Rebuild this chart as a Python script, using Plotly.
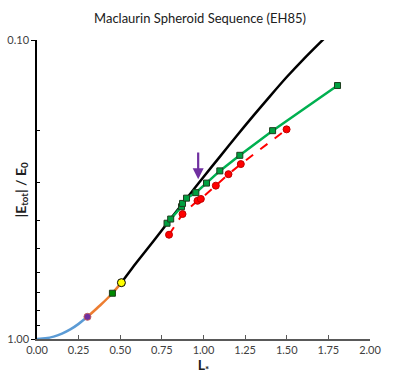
import plotly.graph_objects as go
import math

# ---- data ----
blue_L = [0.0, 0.05, 0.10, 0.15, 0.20, 0.25, 0.303]
blue_E = [1.0, 0.995, 0.982, 0.959, 0.929, 0.890, 0.843]

orange_L = [0.303, 0.38, 0.453, 0.507]
orange_E = [0.843, 0.771, 0.703, 0.648]

black_L = [0.507, 0.60, 0.70, 0.80, 0.90, 1.00, 1.10, 1.20, 1.30, 1.40, 1.50, 1.60, 1.70, 1.80]
black_E = [0.648, 0.553, 0.470, 0.398, 0.338, 0.287, 0.245, 0.209, 0.179, 0.154, 0.133, 0.116, 0.102, 0.090]

green_L = [0.781, 0.803, 0.868, 0.874, 0.898, 0.954, 1.018, 1.098, 1.218, 1.415, 1.805]
green_E = [0.410, 0.397, 0.361, 0.352, 0.338, 0.324, 0.301, 0.274, 0.243, 0.201, 0.142]

red_L = [0.793, 0.874, 0.964, 0.984, 1.074, 1.150, 1.224, 1.499]
red_E = [0.448, 0.382, 0.345, 0.340, 0.307, 0.281, 0.260, 0.199]

purple_pt = (0.303, 0.843)
green_pt = (0.453, 0.703)
yellow_pt = (0.507, 0.648)

arrow_L = 0.968
arrow_tip = 0.292
arrow_tail = 0.235

x_ticks = [0, 0.25, 0.5, 0.75, 1.0, 1.25, 1.5, 1.75, 2.0]
y_ticks = [0.1, 1.0]
y_minor = [0.2, 0.3, 0.4, 0.5, 0.6, 0.7, 0.8, 0.9]

FONT = "Lato, 'Open Sans', sans-serif"

fig = go.Figure()
fig.add_trace(go.Scatter(x=blue_L, y=blue_E, mode="lines",
                         line=dict(color="#5B9BD5", width=2.5, shape="spline", smoothing=0.6)))
fig.add_trace(go.Scatter(x=orange_L, y=orange_E, mode="lines",
                         line=dict(color="#ED7D31", width=2.5, shape="spline", smoothing=0.6)))
fig.add_trace(go.Scatter(x=black_L, y=black_E, mode="lines",
                         line=dict(color="black", width=2.5, shape="spline", smoothing=0.6)))
fig.add_trace(go.Scatter(x=red_L, y=red_E, mode="lines+markers",
                         line=dict(color="#FF0000", width=2, dash="dash"),
                         marker=dict(symbol="circle", size=7, color="#FF0000",
                                     line=dict(color="#C00000", width=1))))
fig.add_trace(go.Scatter(x=green_L, y=green_E, mode="lines+markers",
                         line=dict(color="#00B050", width=2.5),
                         marker=dict(symbol="square", size=6, color="#00A040",
                                     line=dict(color="#1E3D1E", width=1))))
fig.add_trace(go.Scatter(x=[purple_pt[0]], y=[purple_pt[1]], mode="markers",
                         marker=dict(symbol="circle", size=7, color="#7030A0",
                                     line=dict(color="#C06060", width=1))))
fig.add_trace(go.Scatter(x=[green_pt[0]], y=[green_pt[1]], mode="markers",
                         marker=dict(symbol="square", size=6, color="#008A00",
                                     line=dict(color="#1E3D1E", width=1))))
fig.add_trace(go.Scatter(x=[yellow_pt[0]], y=[yellow_pt[1]], mode="markers",
                         marker=dict(symbol="circle", size=8, color="#FFFF00",
                                     line=dict(color="black", width=1))))

fig.add_annotation(x=arrow_L, y=math.log10(arrow_tip), ax=arrow_L, ay=math.log10(arrow_tail),
                   xref="x", yref="y", axref="x", ayref="y", text="", showarrow=True,
                   arrowhead=2, arrowsize=1, arrowwidth=2.2, arrowcolor="#7030A0")

# y-axis title placed as an annotation (between the two sparse tick labels)
fig.add_annotation(text="<b>|E<sub>tot</sub>| / E<sub>0</sub></b>", textangle=-90,
                   xref="paper", yref="paper", x=-16 / 333, y=0.5,
                   xanchor="center", yanchor="middle", showarrow=False,
                   font=dict(family=FONT, size=14, color="#202020"))

fig.update_layout(
    width=400, height=386,
    margin=dict(l=37, r=30, t=40, b=47),
    paper_bgcolor="white", plot_bgcolor="white",
    showlegend=False,
    font=dict(family=FONT, color="#404040", size=11),
    title=dict(text="Maclaurin Spheroid Sequence (EH85)", x=0.5, xref="container",
               y=0.952, yref="container", yanchor="middle",
               font=dict(family=FONT, size=13, color="#202020")),
)
fig.update_xaxes(range=[0, 2], tickvals=x_ticks, ticktext=[f"{v:.2f}" for v in x_ticks],
                 automargin=False,
                 showgrid=False, zeroline=False, showline=True, linecolor="#595959", linewidth=1.5,
                 ticks="inside", ticklen=4, tickcolor="#595959",
                 title=dict(text="<b>L<sub>*</sub></b>", standoff=3,
                            font=dict(family=FONT, size=14, color="#202020")),
                 tickfont=dict(size=11, color="#404040"))
fig.update_yaxes(type="log", range=[0, -1], tickvals=y_ticks, ticktext=["0.10", "1.00"],
                 automargin=False,
                 showgrid=True, gridcolor="#D9D9D9", gridwidth=1, zeroline=False,
                 showline=True, linecolor="black", linewidth=1.5,
                 ticks="outside", ticklen=4, tickcolor="black",
                 minor=dict(tickvals=y_minor, ticks="inside", ticklen=3, tickcolor="black", showgrid=False),
                 tickfont=dict(size=11, color="#404040"))

fig.write_html("out.html", config={"displayModeBar": False},
               post_script="document.body.style.margin='0';document.body.style.padding='0';")
